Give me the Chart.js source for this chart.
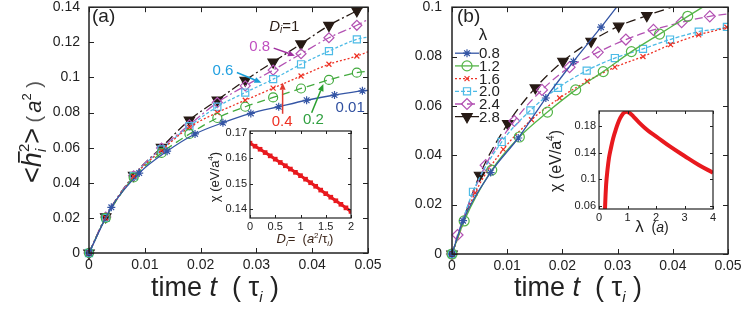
<!DOCTYPE html>
<html>
<head>
<meta charset="utf-8">
<script src="https://cdn.jsdelivr.net/npm/chart.js@4.4.0/dist/chart.umd.min.js"></script>
<style>
  body { margin: 0; background: #fff; }
  #wrap { position: relative; width: 747px; height: 322px; overflow: hidden; }
  canvas { position: absolute; }
</style>
</head>
<body>
<div id="wrap">
  <canvas id="mainA" width="400" height="322" style="left:0;top:0"></canvas>
  <canvas id="mainB" width="375" height="322" style="left:372px;top:0"></canvas>
  <canvas id="insetA" width="165" height="130" style="left:195px;top:120px"></canvas>
  <canvas id="insetB" width="195" height="150" style="left:540px;top:95px"></canvas>
</div>
<script>
// panel (a): <h^2> against time for several D_i
const tA = [0, 0.003, 0.008, 0.013, 0.018, 0.023, 0.028, 0.033, 0.038, 0.043, 0.048, 0.05];
const tA001 = [0, 0.004, 0.009, 0.014, 0.019, 0.024, 0.029, 0.034, 0.039, 0.044, 0.049, 0.05];
const hD001 = [0, 0.026, 0.0455, 0.058, 0.0678, 0.0742, 0.0795, 0.0833, 0.087, 0.090, 0.0924, 0.0926];
const hD02 = [0, 0.020, 0.043, 0.057, 0.0678, 0.0769, 0.0833, 0.0886, 0.0937, 0.0986, 0.1027, 0.1035];
const hD04 = [0, 0.020, 0.0435, 0.0585, 0.0716, 0.080, 0.087, 0.0939, 0.1008, 0.1075, 0.1122, 0.1146];
const hD06 = [0, 0.020, 0.0438, 0.059, 0.0722, 0.0833, 0.0914, 0.099, 0.1075, 0.115, 0.1217, 0.123];
const hD08 = [0, 0.0205, 0.044, 0.0598, 0.073, 0.0857, 0.0952, 0.1042, 0.1135, 0.1226, 0.1297, 0.133];
const hD1 = [0, 0.0206, 0.0442, 0.0602, 0.0757, 0.0871, 0.0984, 0.1088, 0.1191, 0.1296, 0.138, 0.1415];
const xTicksMain = [0, 0.01, 0.02, 0.03, 0.04, 0.05];
const yTicksA = [0, 0.02, 0.04, 0.06, 0.08, 0.1, 0.12, 0.14];

// panel (b): <h^2> against time for several lambda
const tL08 = [0, 0.002, 0.007, 0.012, 0.017, 0.022, 0.027, 0.0305];
const hL08 = [0, 0.0135, 0.033, 0.047, 0.0632, 0.078, 0.0919, 0.102];
const tL12 = [0, 0.0022, 0.0072, 0.0122, 0.0173, 0.0224, 0.0274, 0.0325, 0.0376, 0.0427, 0.046];
const hL12 = [0, 0.0134, 0.034, 0.0474, 0.0575, 0.0665, 0.0739, 0.082, 0.0891, 0.0963, 0.1008];
const tL16 = [0, 0.0042, 0.0093, 0.0144, 0.0195, 0.0245, 0.0295, 0.0346, 0.0396, 0.0447, 0.0498, 0.05];
const hL16 = [0, 0.0248, 0.0424, 0.0544, 0.0632, 0.070, 0.0757, 0.080, 0.0848, 0.0888, 0.0919, 0.0921];
const tL20 = [0, 0.0038, 0.009, 0.0142, 0.0192, 0.0244, 0.0295, 0.0346, 0.0395, 0.0447, 0.0498, 0.05];
const hL20 = [0, 0.0252, 0.0454, 0.0582, 0.0673, 0.0743, 0.0794, 0.0831, 0.0869, 0.0901, 0.092, 0.0922];
const tL24 = [0, 0.001, 0.0061, 0.0113, 0.0163, 0.0213, 0.0264, 0.0315, 0.0365, 0.0416, 0.0467, 0.05];
const hL24 = [0, 0.0077, 0.036, 0.0539, 0.0665, 0.0757, 0.0817, 0.0869, 0.0908, 0.0939, 0.0963, 0.0973];
const tL28 = [0, 0.005, 0.0101, 0.0151, 0.0201, 0.0252, 0.0302, 0.0353, 0.0405];
const hL28 = [0, 0.0319, 0.0528, 0.0673, 0.0781, 0.0862, 0.0923, 0.0966, 0.1005];
const legendB = ['0.8', '1.2', '1.6', '2.0', '2.4', '2.8'];
const yTicksB = [0, 0.02, 0.04, 0.06, 0.08, 0.1];

// inset (a): chi against D_i
const dInset = [0, 0.1, 0.2, 0.3, 0.4, 0.5, 0.6, 0.7, 0.8, 0.9, 1.0, 1.1, 1.2, 1.3, 1.4, 1.5, 1.6, 1.7, 1.8, 1.9, 2.0];
const chiD = [0.1660, 0.1648, 0.1636, 0.1623, 0.1610, 0.1597, 0.1584, 0.1571, 0.1558, 0.1545, 0.1532,
              0.1518, 0.1504, 0.1490, 0.1475, 0.1461, 0.1447, 0.1433, 0.1419, 0.1405, 0.1391];
const xTicksIA = [0, 0.5, 1, 1.5, 2];
const yTicksIA = [0.14, 0.15, 0.16, 0.17];

// inset (b): chi against lambda
const lamInset = [0.2, 0.25, 0.3, 0.35, 0.4, 0.5, 0.6, 0.7, 0.8, 0.9, 1.0, 1.1, 1.2, 1.4, 1.6, 1.8, 2.0, 2.5, 3.0, 3.5, 4.0];
const chiLam = [0.045, 0.092, 0.115, 0.132, 0.143, 0.162, 0.176, 0.188, 0.196, 0.2005, 0.201, 0.1985, 0.1945,
                0.1855, 0.1775, 0.1705, 0.1645, 0.149, 0.135, 0.1215, 0.110];
const xTicksIB = [0, 1, 2, 3, 4];
const yTicksIB = [0.06, 0.1, 0.14, 0.18];

const FONT = "'Liberation Sans', Arial, sans-serif";
const fnt = (s, st) => (st ? st + ' ' : '') + s + 'px ' + FONT;
Chart.defaults.font.family = FONT;

const BLUE = '#3455a5', GREEN = '#43aa3e', RED = '#ee3124', CYAN = '#4dbbe6', MAG = '#b352b3', BLK = '#261a14';

function series(label, ts, vs, st) {
  return {
    label: label,
    data: ts.map((t, i) => ({ x: t, y: vs[i] })),
    pointRadius: ts.map((t, i) => i === ts.length - 1 ? 0 : st.r),
    borderColor: st.c, pointBorderColor: st.c,
    pointBackgroundColor: st.solid ? st.c : 'rgba(0,0,0,0)',
    pointStyle: st.ps, pointRotation: st.rot || 0,
    borderDash: st.dash || [], borderWidth: 1.3, pointBorderWidth: 1.2,
    cubicInterpolationMode: 'monotone', fill: false,
    clip: { left: 10, top: 0, right: 0, bottom: 10 }
  };
}

// draws a run of text pieces (italics, sub/superscripts) from the origin
function rich(ctx, parts, align, color) {
  let w = 0;
  parts.forEach(p => {
    ctx.font = p.f;
    p.w = p.adv === false ? 0 : ctx.measureText(p.t).width + (p.sp || 0);
    w += p.w;
  });
  let x = align === 'center' ? -w / 2 : 0;
  parts.forEach(p => {
    ctx.font = p.f;
    ctx.fillStyle = p.c || color;
    ctx.fillText(p.t, x, p.dy || 0);
    if (p.bar) {
      const mw = ctx.measureText(p.t).width;
      ctx.fillRect(x + mw * 0.3, -p.bar, mw * 0.75, 1.8);
    }
    x += p.w;
  });
}

function arrow(ctx, x1, y1, x2, y2, c) {
  const a = Math.atan2(y2 - y1, x2 - x1), hl = 7, hw = 3;
  const bx = x2 - hl * Math.cos(a), by = y2 - hl * Math.sin(a);
  ctx.strokeStyle = c; ctx.fillStyle = c; ctx.lineWidth = 1.5;
  ctx.beginPath(); ctx.moveTo(x1, y1); ctx.lineTo(bx, by); ctx.stroke();
  ctx.beginPath(); ctx.moveTo(x2, y2);
  ctx.lineTo(bx + hw * Math.sin(a), by - hw * Math.cos(a));
  ctx.lineTo(bx - hw * Math.sin(a), by + hw * Math.cos(a));
  ctx.closePath(); ctx.fill();
}

const framePlugin = {
  id: 'frame',
  beforeDraw(chart, args, o) {
    if (!o.fill) return;
    const a = chart.chartArea, ctx = chart.ctx;
    ctx.save(); ctx.fillStyle = o.fill;
    ctx.fillRect(a.left, a.top, a.width, a.height);
    ctx.restore();
  },
  afterDraw(chart, args, o) {
    const a = chart.chartArea, ctx = chart.ctx, len = o.len || 5;
    const sx = chart.scales.x, sy = chart.scales.y;
    ctx.save();
    ctx.strokeStyle = '#222';
    ctx.lineWidth = 1;
    ctx.beginPath();
    sx.ticks.forEach(t => {
      const p = Math.round(sx.getPixelForValue(t.value)) + 0.5;
      ctx.moveTo(p, a.bottom); ctx.lineTo(p, a.bottom - len);
      ctx.moveTo(p, a.top); ctx.lineTo(p, a.top + len);
    });
    sy.ticks.forEach(t => {
      const p = Math.round(sy.getPixelForValue(t.value)) + 0.5;
      ctx.moveTo(a.left, p); ctx.lineTo(a.left + len, p);
      ctx.moveTo(a.right, p); ctx.lineTo(a.right - len, p);
    });
    ctx.stroke();
    ctx.lineWidth = o.border || 1.5;
    ctx.strokeRect(a.left, a.top, a.width, a.height);
    ctx.restore();
  }
};

const textPlugin = {
  id: 'texts',
  afterDraw(chart, args, o) {
    const ctx = chart.ctx;
    (o.items || []).forEach(it => {
      ctx.save();
      ctx.translate(it.x, it.y);
      if (it.rot) ctx.rotate(it.rot);
      ctx.textBaseline = it.base || 'alphabetic';
      rich(ctx, it.parts, it.align, it.color || '#222');
      ctx.restore();
    });
  }
};

// labels placed in data units, with arrows pointing at curves
const notePlugin = {
  id: 'notes',
  afterDraw(chart, args, o) {
    const ctx = chart.ctx, sx = chart.scales.x, sy = chart.scales.y;
    (o.items || []).forEach(n => {
      ctx.save();
      if (n.arrow) {
        arrow(ctx, sx.getPixelForValue(n.arrow[0]), sy.getPixelForValue(n.arrow[1]),
              sx.getPixelForValue(n.arrow[2]), sy.getPixelForValue(n.arrow[3]), n.ac || n.c);
      }
      ctx.translate(sx.getPixelForValue(n.t), sy.getPixelForValue(n.v));
      ctx.textBaseline = 'middle';
      rich(ctx, n.parts, 'center', n.c);
      ctx.restore();
    });
  }
};

const lineLegendPlugin = {
  id: 'lineLegend',
  afterDraw(chart, args, o) {
    if (!o.labels) return;
    const ctx = chart.ctx, a = chart.chartArea;
    ctx.save();
    ctx.font = fnt(17);
    ctx.fillStyle = '#222';
    ctx.textBaseline = 'middle';
    ctx.textAlign = 'center';
    ctx.fillText('λ', a.left + 31, a.top + 28);
    ctx.textAlign = 'left';
    chart.data.datasets.forEach((ds, i) => {
      const y = a.top + 46 + i * 12.7;
      ctx.strokeStyle = ds.borderColor;
      ctx.lineWidth = 1.3;
      ctx.setLineDash(ds.borderDash);
      ctx.beginPath(); ctx.moveTo(a.left + 3, y); ctx.lineTo(a.left + 27, y); ctx.stroke();
      ctx.setLineDash([]);
      ctx.fillStyle = ds.pointBackgroundColor;
      ctx.lineWidth = 1.2;
      Chart.helpers.drawPoint(ctx, { pointStyle: ds.pointStyle, radius: ds.pointRadius[1],
        rotation: ds.pointRotation, borderWidth: 1.2 }, a.left + 15, y);
      ctx.fillStyle = '#222';
      ctx.font = fnt(15);
      ctx.fillText(o.labels[i], a.left + 27, y + 1);
    });
    ctx.restore();
  }
};

Chart.register(framePlugin, textPlugin, notePlugin, lineLegendPlugin);

const fmt = v => String(+Number(v).toFixed(2));

function scales(c) {
  const tickFont = { family: FONT, size: c.fs };
  return {
    x: {
      type: 'linear', min: c.xMin, max: c.xMax,
      grid: { display: false, drawTicks: false }, border: { display: false },
      ticks: { font: tickFont, color: '#222', padding: c.xPad, maxRotation: 0, autoSkip: false, callback: fmt },
      afterBuildTicks: s => { s.ticks = c.xTicks.map(v => ({ value: v })); },
      afterFit: s => { s.height = c.xHeight; s.paddingLeft = 0; s.paddingRight = 0; }
    },
    y: {
      type: 'linear', min: c.yMin, max: c.yMax,
      grid: { display: false, drawTicks: false }, border: { display: false },
      ticks: { font: tickFont, color: '#222', padding: c.yPad, autoSkip: false, callback: fmt },
      afterBuildTicks: s => { s.ticks = c.yTicks.map(v => ({ value: v })); },
      afterFit: s => { s.width = c.yWidth; s.paddingTop = 0; s.paddingBottom = 0; }
    }
  };
}

function baseOptions(c, plugins) {
  return {
    responsive: false, animation: false, events: [],
    layout: { padding: { left: 0, right: c.padRight, top: c.padTop, bottom: 0 } },
    plugins: Object.assign({ legend: { display: false }, tooltip: { enabled: false } }, plugins),
    scales: scales(c)
  };
}

const xTitle = (x) => ({
  x: x, y: 296, align: 'center', parts: [
    { t: 'time ', f: fnt(27) }, { t: 't', f: fnt(27, 'italic') }, { t: '  ( ', f: fnt(27) },
    { t: 'τ', f: fnt(27) }, { t: 'i', f: fnt(15, 'italic'), dy: 6 }, { t: ' )', f: fnt(27) }
  ]
});

// ---------- main (a) ----------
new Chart(document.getElementById('mainA'), {
  type: 'line',
  data: {
    datasets: [
      series('0.01', tA001, hD001, { c: BLUE, ps: 'star', r: 4 }),
      series('0.2', tA, hD02, { c: GREEN, ps: 'circle', r: 4.5, dash: [8, 5] }),
      series('0.4', tA, hD04, { c: RED, ps: 'crossRot', r: 3.5, dash: [2, 2] }),
      series('0.6', tA, hD06, { c: CYAN, ps: 'rect', r: 5, dash: [3, 2] }),
      series('0.8', tA, hD08, { c: MAG, ps: 'rectRot', r: 5, dash: [9, 3, 2, 3] }),
      series('1', tA, hD1, { c: BLK, ps: 'triangle', r: 6, rot: 180, solid: true, dash: [9, 3, 2, 3] })
    ]
  },
  options: baseOptions(
    { xMin: 0, xMax: 0.05, yMin: 0, yMax: 0.14, xTicks: xTicksMain, yTicks: yTicksA, fs: 14,
      xPad: 4, yPad: 9, xHeight: 69, yWidth: 89, padRight: 32, padTop: 6 },
    {
      frame: { len: 5 },
      texts: { items: [
        xTitle(215),
        { x: 92, y: 22, parts: [{ t: '(a)', f: fnt(19) }] },
        { x: 41, y: 132, rot: -Math.PI / 2, align: 'center', parts: [
          { t: '<', f: fnt(27) }, { t: 'h', f: fnt(27, 'italic'), bar: 23 },
          { t: 'i', f: fnt(15, 'italic'), dy: 5, adv: false }, { t: '2', f: fnt(15), dy: -12 },
          { t: '>', f: fnt(27) }, { t: ' (', f: fnt(20), c: '#555', sp: 3 }, { t: 'a', f: fnt(22, 'italic') },
          { t: '2', f: fnt(13), dy: -10 }, { t: ' )', f: fnt(20), c: '#555' }
        ] }
      ] },
      notes: { items: [
        { t: 0.0350, v: 0.1290, c: '#2b1d16', parts: [
          { t: 'D', f: fnt(15, 'italic') }, { t: 'i', f: fnt(10, 'italic'), dy: 4 }, { t: '=1', f: fnt(15) }] },
        { t: 0.0306, v: 0.1175, c: '#c050c0', ac: '#a0309f', parts: [{ t: '0.8', f: fnt(15) }],
          arrow: [0.0331, 0.1167, 0.0369, 0.1124] },
        { t: 0.0240, v: 0.1040, c: '#1f9fe0', ac: '#1a9fd8', parts: [{ t: '0.6', f: fnt(15) }],
          arrow: [0.0265, 0.1028, 0.0309, 0.0970] },
        { t: 0.0346, v: 0.0748, c: RED, ac: '#e03a30', parts: [{ t: '0.4', f: fnt(15) }],
          arrow: [0.0347, 0.0793, 0.0347, 0.0969] },
        { t: 0.0402, v: 0.0759, c: '#30a040', ac: '#2aa02f', parts: [{ t: '0.2', f: fnt(15) }],
          arrow: [0.0399, 0.0799, 0.0420, 0.0962] },
        { t: 0.0468, v: 0.0827, c: '#2f4f9f', parts: [{ t: '0.01', f: fnt(15) }] }
      ] }
    })
});

// ---------- main (b) ----------
new Chart(document.getElementById('mainB'), {
  type: 'line',
  data: {
    datasets: [
      series('0.8', tL08, hL08, { c: BLUE, ps: 'star', r: 4 }),
      series('1.2', tL12, hL12, { c: '#55b548', ps: 'circle', r: 5 }),
      series('1.6', tL16, hL16, { c: RED, ps: 'crossRot', r: 3.5, dash: [2, 2] }),
      series('2.0', tL20, hL20, { c: CYAN, ps: 'rect', r: 5, dash: [4, 2] }),
      series('2.4', tL24, hL24, { c: MAG, ps: 'rectRot', r: 5.5, dash: [8, 4] }),
      series('2.8', tL28, hL28, { c: BLK, ps: 'triangle', r: 6, rot: 180, solid: true, dash: [10, 5] })
    ]
  },
  options: baseOptions(
    { xMin: 0, xMax: 0.05, yMin: 0, yMax: 0.1, xTicks: xTicksMain, yTicks: yTicksB, fs: 14,
      xPad: 4, yPad: 10, xHeight: 68, yWidth: 80, padRight: 19, padTop: 6 },
    {
      frame: { len: 5 },
      lineLegend: { labels: legendB },
      texts: { items: [
        xTitle(206),
        { x: 85, y: 22, parts: [{ t: '(b)', f: fnt(19) }] }
      ] }
    })
});

// ---------- inset (a) ----------
new Chart(document.getElementById('insetA'), {
  type: 'line',
  data: {
    datasets: [{
      data: dInset.map((d, i) => ({ x: d, y: chiD[i] })),
      borderColor: '#e8191e', backgroundColor: '#e8191e', borderWidth: 3,
      pointStyle: 'rect', pointRadius: 3.3, pointBorderWidth: 0, pointBackgroundColor: '#e8191e',
      fill: false
    }]
  },
  options: baseOptions(
    { xMin: 0, xMax: 2, yMin: 0.1365, yMax: 0.1708, xTicks: xTicksIA, yTicks: yTicksIA, fs: 11,
      xPad: 2, yPad: 3, xHeight: 32, yWidth: 55, padRight: 9, padTop: 11 },
    {
      frame: { len: 3, fill: '#fff', border: 1.2 },
      texts: { items: [
        { x: 110, y: 123, align: 'center', color: '#3a2418', parts: [
          { t: 'D', f: fnt(13, 'italic') }, { t: 'i', f: fnt(8, 'italic'), dy: 3 }, { t: '=  (', f: fnt(13) },
          { t: 'a', f: fnt(13, 'italic') }, { t: '2', f: fnt(8), dy: -5 }, { t: '/τ', f: fnt(13) },
          { t: 'i', f: fnt(8, 'italic'), dy: 3 }, { t: ')', f: fnt(13) }] },
        { x: 24, y: 57, rot: -Math.PI / 2, align: 'center', parts: [
          { t: 'χ (eV/a', f: fnt(13) }, { t: '4', f: fnt(8), dy: -6 }, { t: ')', f: fnt(13) }] }
      ] }
    })
});

// ---------- inset (b) ----------
new Chart(document.getElementById('insetB'), {
  type: 'line',
  data: {
    datasets: [{
      data: lamInset.map((l, i) => ({ x: l, y: chiLam[i] })),
      borderColor: '#e8191e', borderWidth: 4, pointRadius: 0,
      tension: 0.4, fill: false
    }]
  },
  options: baseOptions(
    { xMin: 0, xMax: 4, yMin: 0.0555, yMax: 0.2025, xTicks: xTicksIB, yTicks: yTicksIB, fs: 11,
      xPad: 2, yPad: 3, xHeight: 36, yWidth: 59, padRight: 22, padTop: 16 },
    {
      frame: { len: 3, fill: '#fff', border: 1.2 },
      texts: { items: [
        { x: 112, y: 137, align: 'center', parts: [
          { t: 'λ', f: fnt(17) }, { t: '  (', f: fnt(14) }, { t: 'a', f: fnt(14, 'italic') }, { t: ')', f: fnt(14) }] },
        { x: 21, y: 66, rot: -Math.PI / 2, align: 'center', parts: [
          { t: 'χ (eV/a', f: fnt(16) }, { t: '4', f: fnt(10), dy: -7 }, { t: ')', f: fnt(16) }] }
      ] }
    })
});
</script>
</body>
</html>
